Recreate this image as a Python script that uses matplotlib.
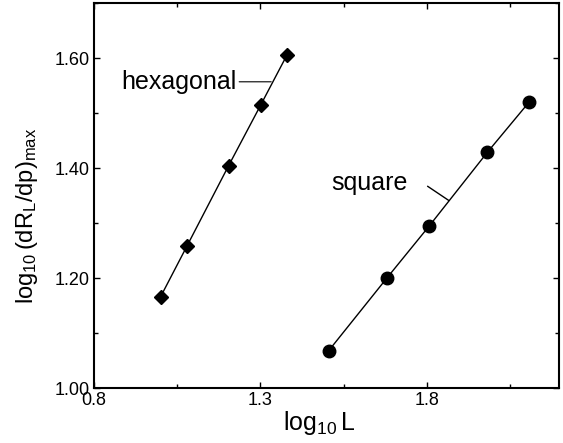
import numpy as np
import matplotlib.pyplot as plt

plt.rcParams['font.family'] = ['Liberation Sans', 'DejaVu Sans']
plt.rcParams['mathtext.fontset'] = 'custom'
plt.rcParams['mathtext.rm'] = 'Liberation Sans'
plt.rcParams['mathtext.it'] = 'Liberation Sans:italic'

# data
hex_logL = [1.000, 1.079, 1.204, 1.301, 1.380]
hex_logR = [1.166, 1.258, 1.404, 1.515, 1.606]

sq_logL = [1.505, 1.681, 1.806, 1.982, 2.107]
sq_logR = [1.068, 1.201, 1.294, 1.429, 1.520]

x_ticks = [0.8, 1.3, 1.8]
x_labels = ['0.8', '1.3', '1.8']
y_ticks = [1.0, 1.2, 1.4, 1.6]
y_labels = ['1.00', '1.20', '1.40', '1.60']

fig = plt.figure(figsize=(5.63, 4.43), dpi=100)
ax = fig.add_axes([0.167, 0.124, 0.826, 0.869])

ax.plot(hex_logL, hex_logR, color='black', lw=1.0, marker='D', ms=7,
        mfc='black', mec='black')
ax.plot(sq_logL, sq_logR, color='black', lw=1.0, marker='o', ms=9,
        mfc='black', mec='black')

ax.annotate('hexagonal', xy=(1.332, 1.557), xytext=(1.228, 1.557),
            ha='right', va='center', fontsize=18,
            arrowprops=dict(arrowstyle='-', lw=1.0, color='#333333',
                            shrinkA=0, shrinkB=0))
ax.text(1.514, 1.372, 'square', ha='left', va='center', fontsize=18)
ax.annotate('', xy=(1.866, 1.341), xytext=(1.802, 1.367),
            arrowprops=dict(arrowstyle='-', lw=1.0, color='black',
                            shrinkA=0, shrinkB=0))

ax.set_xlim(0.8, 2.197)
ax.set_ylim(1.0, 1.70)
ax.set_xticks(x_ticks)
ax.set_xticklabels(x_labels)
ax.set_xticks([1.05, 1.55, 2.05], minor=True)
ax.set_yticks(y_ticks)
ax.set_yticklabels(y_labels)
ax.set_yticks([1.1, 1.3, 1.5, 1.7], minor=True)

ax.tick_params(which='both', direction='in', top=True, right=True,
               labelsize=13, width=1.0)
ax.tick_params(which='major', length=4)
ax.tick_params(which='minor', length=3)
ax.tick_params(axis='x', pad=3)
ax.tick_params(axis='y', pad=3)
for s in ax.spines.values():
    s.set_linewidth(1.5)

ax.set_xlabel(r'$\mathregular{log_{10}\,L}$', fontsize=18)
ax.set_ylabel(r'$\mathregular{log_{10}\,(dR_L/dp)_{max}}$', fontsize=17)
ax.xaxis.set_label_coords(0.485, -0.055, transform=ax.transAxes)
ax.yaxis.set_label_coords(-0.117, 0.447, transform=ax.transAxes)

fig.savefig('out.png', dpi=100)
